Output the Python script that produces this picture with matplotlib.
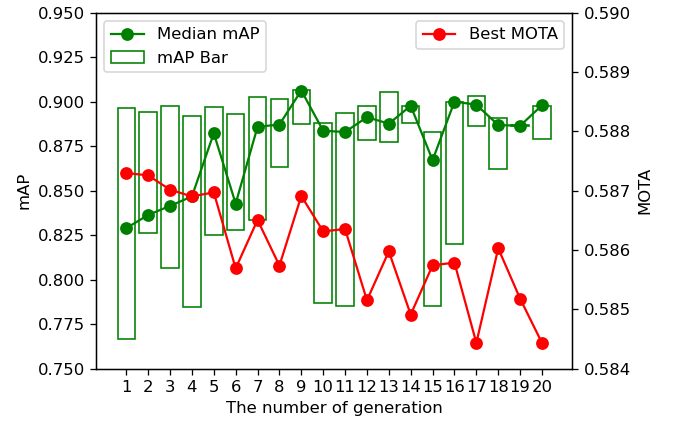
import numpy as np
import matplotlib
matplotlib.use("Agg")
import matplotlib.pyplot as plt

# Data
generations = np.arange(1, 21)
median_map = [0.8289, 0.8363, 0.8414, 0.8467, 0.8822, 0.8427, 0.8858, 0.8871, 0.9062, 0.8836,
              0.8829, 0.8912, 0.8876, 0.8976, 0.8671, 0.9000, 0.8982, 0.8868, 0.8864, 0.8979]
bar_top = [0.8961, 0.8941, 0.8977, 0.8921, 0.8970, 0.8931, 0.9026, 0.9013, 0.9064, 0.8882,
           0.8933, 0.8976, 0.9055, 0.8977, 0.8830, 0.9000, 0.9032, 0.8908, 0.8866, 0.8977]
bar_bottom = [0.7665, 0.8261, 0.8066, 0.7845, 0.8250, 0.8281, 0.8334, 0.8633, 0.8876, 0.7869,
              0.7852, 0.8783, 0.8771, 0.8880, 0.7854, 0.8199, 0.8864, 0.8622, 0.8864, 0.8792]
best_mota = [0.587296, 0.587256, 0.587015, 0.586902, 0.586970, 0.585690, 0.586505, 0.585736,
             0.586909, 0.586313, 0.586353, 0.585152, 0.585976, 0.584911, 0.585741, 0.585786,
             0.584434, 0.586027, 0.585180, 0.584434]

DPI = 115
plt.rcParams['font.size'] = 10.3
fig = plt.figure(figsize=(675 / DPI, 421 / DPI), dpi=DPI)
ax = fig.add_axes([0.142, 0.1243, 0.706, 0.846])

heights = np.array(bar_top) - np.array(bar_bottom)
ax.bar(generations, heights, bottom=bar_bottom, width=0.8, fill=False,
       edgecolor='green', linewidth=1.0, label='mAP Bar')
ax.plot(generations, median_map, color='green', marker='o', markersize=7,
        linewidth=1.4, label='Median mAP')

ax.set_ylim(0.75, 0.95)
ax.set_yticks(np.arange(0.75, 0.951, 0.025))
ax.yaxis.set_major_formatter(matplotlib.ticker.FormatStrFormatter('%.3f'))
ax.set_xticks(generations)
ax.set_xlabel('The number of generation')
ax.set_ylabel('mAP')
ax.legend(loc='upper left')

ax2 = ax.twinx()
ax2.plot(generations, best_mota, color='red', marker='o', markersize=7,
         linewidth=1.4, label='Best MOTA')
ax2.set_ylim(0.584, 0.590)
ax2.set_yticks(np.arange(0.584, 0.5901, 0.001))
ax2.yaxis.set_major_formatter(matplotlib.ticker.FormatStrFormatter('%.3f'))
ax2.set_ylabel('MOTA')
ax2.legend(loc='upper right')

fig.savefig('out.png', dpi=DPI)
